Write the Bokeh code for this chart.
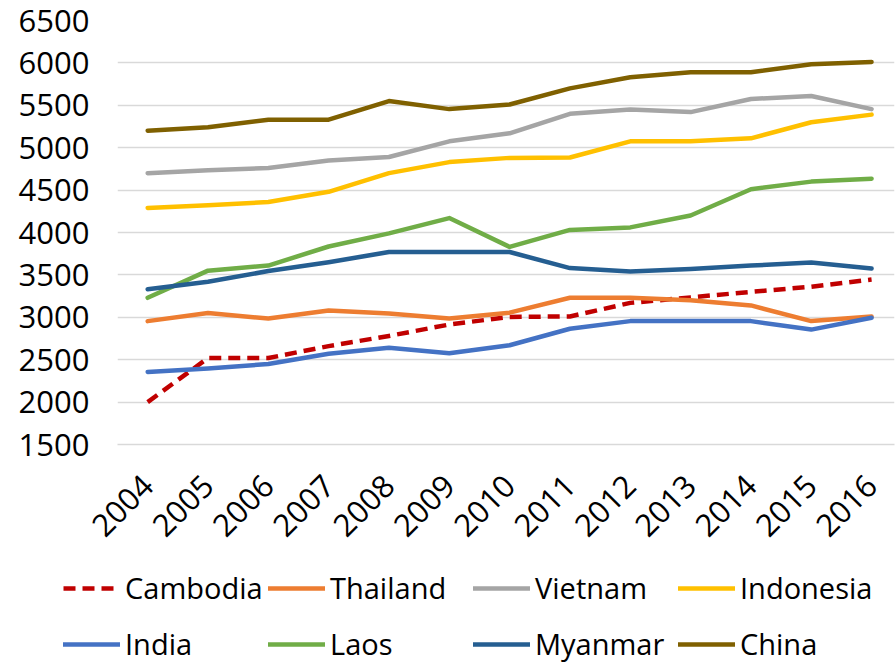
import numpy as np
from bokeh.plotting import figure
from bokeh.models import Range1d, FixedTicker, Legend, LegendItem
from bokeh.embed import file_html
from bokeh.resources import INLINE

years = list(range(2004, 2017))
cambodia = [2000, 2520, 2520, 2660, 2780, 2915, 3005, 3010, 3170, 3235, 3300, 3360, 3445]
thailand = [2955, 3050, 2985, 3080, 3045, 2985, 3055, 3230, 3230, 3200, 3140, 2955, 3010]
vietnam = [4700, 4735, 4760, 4850, 4890, 5075, 5170, 5400, 5450, 5420, 5575, 5610, 5455]
indonesia = [4290, 4320, 4360, 4480, 4700, 4830, 4880, 4885, 5075, 5075, 5110, 5300, 5390]
india = [2355, 2395, 2450, 2570, 2640, 2575, 2670, 2865, 2955, 2955, 2955, 2855, 2995]
laos = [3230, 3550, 3610, 3835, 3990, 4170, 3830, 4030, 4060, 4200, 4510, 4600, 4635]
myanmar = [3330, 3420, 3545, 3650, 3770, 3770, 3770, 3580, 3540, 3570, 3610, 3645, 3575]
china = [5200, 5240, 5330, 5330, 5550, 5455, 5510, 5700, 5830, 5890, 5890, 5985, 6010]
y_ticks = [1500, 2000, 2500, 3000, 3500, 4000, 4500, 5000, 5500, 6000, 6500]

series = [
    ("Cambodia", cambodia, "#C00000", "12 7"),
    ("Thailand", thailand, "#ED7D31", "solid"),
    ("Vietnam", vietnam, "#A5A5A5", "solid"),
    ("Indonesia", indonesia, "#FFC000", "solid"),
    ("India", india, "#4472C4", "solid"),
    ("Laos", laos, "#70AD47", "solid"),
    ("Myanmar", myanmar, "#255E91", "solid"),
    ("China", china, "#7F6000", "solid"),
]

FONT = "Open Sans"
AX_FS = "31px"
LG_FS = "29px"

p = figure(frame_width=777, frame_height=424, output_backend="svg", toolbar_location=None,
           x_range=Range1d(2003.5, 2016.38), y_range=Range1d(1500, 6500),
           min_border_left=117, min_border_top=20, min_border_right=1, min_border_bottom=110)
p.outline_line_color = None

for name, vals, color, dash in series:
    p.line(years, vals, line_color=color, line_width=4.5, line_dash=dash,
           line_join="round", line_cap="butt" if dash != "solid" else "round")

p.xaxis.ticker = FixedTicker(ticks=years)
p.yaxis.ticker = FixedTicker(ticks=y_ticks)
for ax in (p.xaxis, p.yaxis):
    ax.major_tick_line_color = None
    ax.minor_tick_line_color = None
    ax.major_label_text_font = FONT
    ax.major_label_text_font_size = AX_FS
    ax.major_label_text_color = "#000000"
p.yaxis.axis_line_color = None
p.yaxis.major_label_standoff = 22
p.xaxis.axis_line_color = "#D9D9D9"
p.xaxis.axis_line_width = 1.5
p.xaxis.major_label_orientation = np.pi / 4
p.xaxis.major_label_standoff = 30
p.xgrid.grid_line_color = None
p.ygrid.grid_line_color = "#D9D9D9"
p.ygrid.grid_line_width = 1.5

# legend-only figure below the chart (series drawn outside its visible range)
lf = figure(width=895, height=108, output_backend="svg", toolbar_location=None,
            x_range=Range1d(0, 1), y_range=Range1d(0, 1),
            x_axis_location=None, y_axis_location=None,
            min_border_left=0, min_border_right=0, min_border_top=0, min_border_bottom=0)
lf.grid.visible = False
lf.outline_line_color = None

items = []
for name, vals, color, dash in series:
    r = lf.line(years, vals, line_color=color, line_width=4.5, line_dash=dash,
                line_cap="butt" if dash != "solid" else "round")
    items.append(LegendItem(label=name, renderers=[r]))

for row, vy in ((items[:4], 55), (items[4:], -1)):
    lg = Legend(items=row, orientation="horizontal", location=(63, vy),
                label_text_font=FONT, label_text_font_size=LG_FS, label_text_color="#000000",
                glyph_width=57, glyph_height=30, label_height=30, label_width=140,
                label_standoff=5, spacing=3, padding=0, margin=0,
                border_line_color=None, background_fill_alpha=0)
    lf.add_layout(lg, "center")

open("out.html", "w").write(file_html([p, lf], INLINE))
